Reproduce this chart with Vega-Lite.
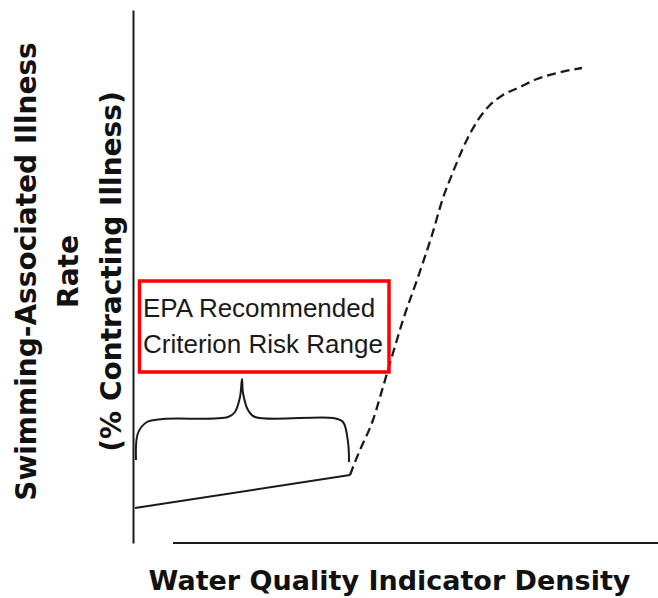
{
  "$schema": "https://vega.github.io/schema/vega-lite/v6.json",
  "width": 525,
  "height": 533,
  "autosize": {"type": "none"},
  "padding": {"left": 133, "top": 10, "right": 0, "bottom": 55},
  "background": "white",
  "config": {"view": {"stroke": null}},
  "datasets": {
    "solid": [
      {"x": 2, "y": 35},
      {"x": 217, "y": 68}
    ],
    "dashed": [
      {"x": 217, "y": 68},
      {"x": 222, "y": 81},
      {"x": 227, "y": 93},
      {"x": 240, "y": 123},
      {"x": 250, "y": 156},
      {"x": 260, "y": 190},
      {"x": 270, "y": 223},
      {"x": 284, "y": 263},
      {"x": 299, "y": 308},
      {"x": 310, "y": 345},
      {"x": 320, "y": 371},
      {"x": 330, "y": 395},
      {"x": 339, "y": 413},
      {"x": 347, "y": 426},
      {"x": 357, "y": 438},
      {"x": 370, "y": 448},
      {"x": 387, "y": 456},
      {"x": 404, "y": 464},
      {"x": 424, "y": 470},
      {"x": 449, "y": 475}
    ],
    "brace": [
      {"i": 0, "x": 3, "y": 83},
      {"i": 1, "x": 5, "y": 110},
      {"i": 2, "x": 14, "y": 121},
      {"i": 3, "x": 30, "y": 124},
      {"i": 4, "x": 95, "y": 126},
      {"i": 5, "x": 102, "y": 131},
      {"i": 6, "x": 107, "y": 146},
      {"i": 7, "x": 109, "y": 164},
      {"i": 8, "x": 110, "y": 150},
      {"i": 9, "x": 115, "y": 133},
      {"i": 10, "x": 122, "y": 126},
      {"i": 11, "x": 200, "y": 125},
      {"i": 12, "x": 210, "y": 121},
      {"i": 13, "x": 215, "y": 101},
      {"i": 14, "x": 216, "y": 81}
    ],
    "axisline": [
      {"x": 40, "x2": 525, "y": 0}
    ],
    "box": [
      {"x": 6.5, "x2": 256, "y": 171, "y2": 262}
    ],
    "boxtext": [
      {"x": 10, "y": 226, "label": "EPA Recommended"},
      {"x": 10, "y": 190, "label": "Criterion Risk Range"}
    ]
  },
  "layer": [
    {
      "data": {"name": "solid"},
      "mark": {"type": "line", "color": "#1a1a1a", "strokeWidth": 2},
      "encoding": {
        "x": {
          "field": "x", "type": "quantitative",
          "scale": {"domain": [0, 525], "nice": false, "zero": false},
          "axis": {
            "domain": false, "ticks": false, "labels": false, "grid": false,
            "title": "Water Quality Indicator Density",
            "titleFont": "DejaVu Sans", "titleFontWeight": "bold", "titleFontSize": 27,
            "titleColor": "#111111", "titleX": 256, "titleY": 46,
            "titleAlign": "center", "titleBaseline": "alphabetic", "titleAngle": 0
          }
        },
        "y": {
          "field": "y", "type": "quantitative",
          "scale": {"domain": [0, 533], "nice": false, "zero": false},
          "axis": {
            "domain": true, "domainColor": "#1a1a1a", "domainWidth": 2,
            "ticks": false, "labels": false, "grid": false,
            "title": ["Swimming-Associated Illness", "Rate", "(% Contracting Illness)"],
            "titleFont": "DejaVu Sans", "titleFontWeight": "bold", "titleFontSize": 28,
            "titleColor": "#111111", "titleLineHeight": 42.5,
            "titleX": -98, "titleY": 261,
            "titleAlign": "center", "titleBaseline": "alphabetic", "titleAngle": 270
          }
        }
      }
    },
    {
      "data": {"name": "dashed"},
      "mark": {"type": "line", "color": "#1a1a1a", "strokeWidth": 2.3, "strokeDash": [9, 5], "interpolate": "monotone"},
      "encoding": {
        "x": {"field": "x", "type": "quantitative"},
        "y": {"field": "y", "type": "quantitative"}
      }
    },
    {
      "data": {"name": "brace"},
      "mark": {"type": "line", "color": "#1a1a1a", "strokeWidth": 2, "interpolate": "catmull-rom"},
      "encoding": {
        "x": {"field": "x", "type": "quantitative"},
        "y": {"field": "y", "type": "quantitative"},
        "order": {"field": "i", "type": "quantitative"}
      }
    },
    {
      "data": {"name": "axisline"},
      "mark": {"type": "rule", "color": "#1a1a1a", "strokeWidth": 2},
      "encoding": {
        "x": {"field": "x", "type": "quantitative"},
        "x2": {"field": "x2"},
        "y": {"field": "y", "type": "quantitative"}
      }
    },
    {
      "data": {"name": "box"},
      "mark": {"type": "rect", "filled": false, "stroke": "#ff0000", "strokeWidth": 3.5},
      "encoding": {
        "x": {"field": "x", "type": "quantitative"},
        "x2": {"field": "x2"},
        "y": {"field": "y", "type": "quantitative"},
        "y2": {"field": "y2"}
      }
    },
    {
      "data": {"name": "boxtext"},
      "mark": {"type": "text", "font": "Liberation Sans", "fontSize": 26, "color": "#1a1a1a", "align": "left", "baseline": "alphabetic"},
      "encoding": {
        "x": {"field": "x", "type": "quantitative"},
        "y": {"field": "y", "type": "quantitative"},
        "text": {"field": "label"}
      }
    }
  ]
}
